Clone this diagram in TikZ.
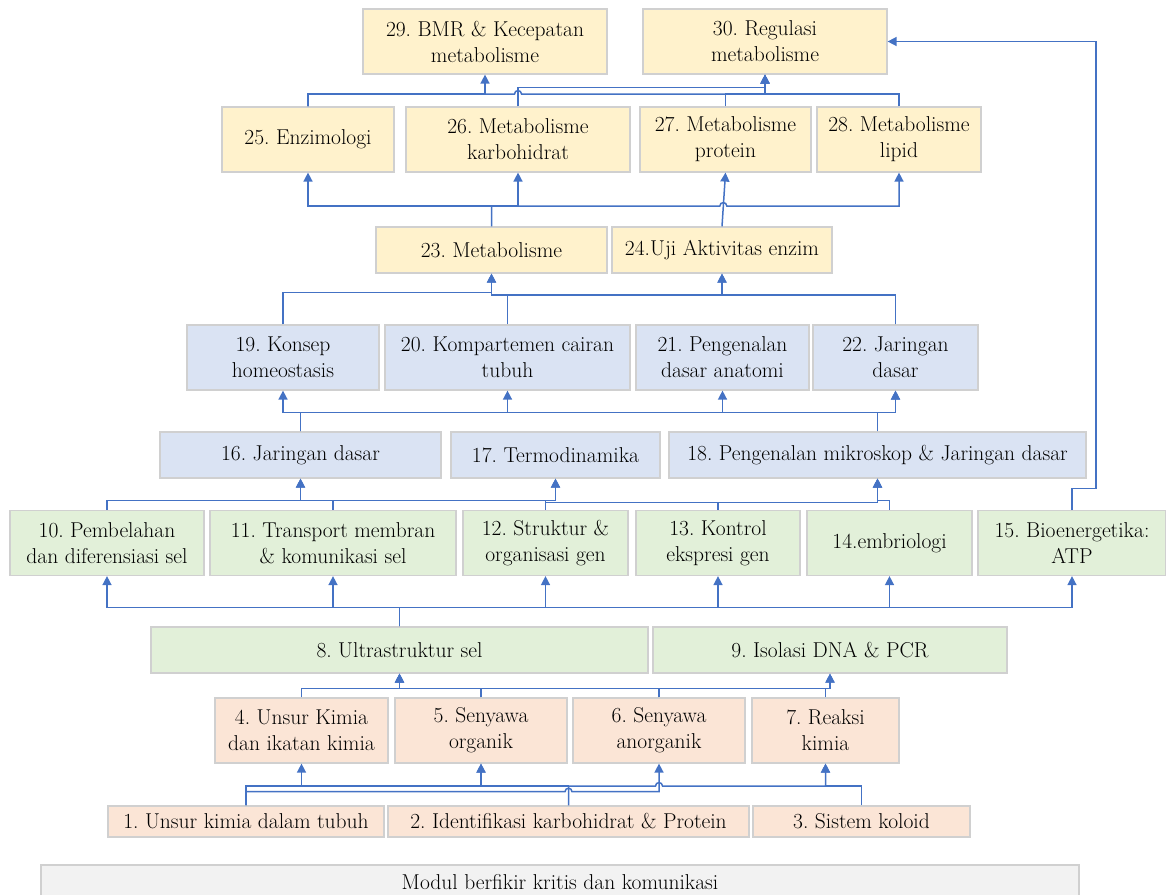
\documentclass[tikz,border=0pt]{standalone}
\usepackage{fontspec}
\usepackage{tikz}
\usetikzlibrary{arrows.meta}
\frenchspacing
\definecolor{metayellow}{HTML}{FFF2CC}
\definecolor{jarblue}{HTML}{DAE3F3}
\definecolor{selgreen}{HTML}{E2F0D9}
\definecolor{kimiaorange}{HTML}{FBE5D6}
\definecolor{modulgray}{HTML}{F2F2F2}
\definecolor{boxline}{HTML}{D0D0D0}
\definecolor{connblue}{HTML}{4472C4}
\tikzset{
every picture/.style={line width=1.5pt, >={Triangle[length=9pt,width=9pt]}},
%%%%%%%%%%  Node styles
topic/.style={draw=boxline, line width=1.2pt, align=center, inner sep=2pt,
              minimum height=65pt, font=\fontsize{21.5}{26}\selectfont},
single/.style={minimum height=46pt},
kimiabox/.style={topic, fill=kimiaorange},
selbox/.style={topic, fill=selgreen},
jaringanbox/.style={topic, fill=jarblue},
metabox/.style={topic, fill=metayellow},
modulbox/.style={topic, fill=modulgray, minimum height=34pt},
%%%% connector
conn/.style={->, draw=connblue, line width=1.5pt}
}

\begin{document}
\begin{tikzpicture}[x=1pt, y=-1pt]
\useasboundingbox (0,0) rectangle (1166,894);
%%%%%%% Kimia
\node[kimiabox, minimum height=31pt, minimum width=276pt] (unsur) at (246,821.5) {1. Unsur kimia dalam tubuh};
\node[kimiabox, minimum height=31pt, minimum width=361pt] (ident) at (568.5,821.5) {2. Identifikasi karbohidrat \& Protein};
\node[kimiabox, minimum height=31pt, minimum width=217pt] (koloid) at (861.5,821.5) {3. Sistem koloid};
\node[kimiabox, minimum width=173pt] (ikatan) at (301.5,730.5) {4. Unsur Kimia\\dan ikatan kimia};
\node[kimiabox, minimum width=172pt] (organik) at (481,730.5) {5. Senyawa\\organik};
\node[kimiabox, minimum width=172pt] (anorg) at (659,730.5) {6. Senyawa\\anorganik};
\node[kimiabox, minimum width=147pt] (reaksi) at (825.5,730.5) {7. Reaksi\\kimia};
%%%%%%% Sel
\node[selbox, single, minimum width=497pt] (ultra) at (399.5,650) {8. Ultrastruktur sel};
\node[selbox, single, minimum width=354pt] (dna) at (830,650) {9. Isolasi DNA \& PCR};
\node[selbox, minimum width=194pt] (belah) at (107,543) {10. Pembelahan\\dan diferensiasi sel};
\node[selbox, minimum width=246pt] (transp) at (333,543) {11. Transport membran\\\& komunikasi sel};
\node[selbox, minimum width=165pt] (gen) at (545.5,543) {12. Struktur \&\\organisasi gen};
\node[selbox, minimum width=164pt] (ekspr) at (718,543) {13. Kontrol\\ekspresi gen};
\node[selbox, minimum width=165pt] (embrio) at (889.5,543) {14.embriologi};
\node[selbox, minimum width=188pt] (atp) at (1072,543) {15. Bioenergetika:\\ATP};
%%%%%%% Jaringan
\node[jaringanbox, single, minimum width=281pt] (jar) at (300.5,455) {16. Jaringan dasar};
\node[jaringanbox, single, minimum width=209pt] (termo) at (555.5,455) {17. Termodinamika};
\node[jaringanbox, single, minimum width=417pt] (mikro) at (877.5,455) {18. Pengenalan mikroskop \& Jaringan dasar};
\node[jaringanbox, minimum width=192pt] (homeo) at (283,357.5) {19. Konsep\\homeostasis};
\node[jaringanbox, minimum width=245pt] (cairan) at (507.5,357.5) {20. Kompartemen cairan\\tubuh};
\node[jaringanbox, minimum width=173pt] (anatomi) at (722.5,357.5) {21. Pengenalan\\dasar anatomi};
\node[jaringanbox, minimum width=165pt] (jardas) at (895.5,357.5) {22. Jaringan\\dasar};
%%%%%%% Metabolisme
\node[metabox, single, minimum width=231pt] (meta) at (491.5,250) {23. Metabolisme};
\node[metabox, single, minimum width=220pt] (uji) at (722,250) {24.Uji Aktivitas enzim};
\node[metabox, minimum width=172pt] (enzim) at (308,139.5) {25. Enzimologi};
\node[metabox, minimum width=224pt] (karbo) at (518,139.5) {26. Metabolisme\\karbohidrat};
\node[metabox, minimum width=171pt] (prot) at (725.5,139.5) {27. Metabolisme\\protein};
\node[metabox, minimum width=164pt] (lipid) at (899,139.5) {28. Metabolisme\\lipid};
\node[metabox, minimum width=244pt] (bmr) at (485,41.5) {29. BMR \& Kecepatan\\metabolisme};
\node[metabox, minimum width=244pt] (reg) at (765,41.5) {30. Regulasi\\metabolisme};
\node[modulbox, minimum width=1038pt] (modul) at (560,882) {Modul berfikir kritis dan komunikasi};
%%%%%%% bus heights
\coordinate (busTop) at (0,94);
\coordinate (busTopHi) at (0,87.7);
\coordinate (busMeta) at (0,206);
\coordinate (busHomeo) at (0,292.7);
\coordinate (busJar) at (0,295);
\coordinate (busJaringan) at (0,412.7);
\coordinate (busSel) at (0,500.3);
\coordinate (busGen) at (0,502.3);
\coordinate (busAtp) at (1096,488.3);
\coordinate (busUltra) at (0,607.3);
\coordinate (busKimia) at (0,688.3);
\coordinate (busUnsur) at (0,786);
\coordinate (busUnsurLo) at (0,791.7);
%%%%%%% 1-3 to 4-7
\draw[conn] (unsur.north) -- (unsur.north |- busUnsur) -| (ikatan.south);
\draw[conn] (unsur.north) -- (unsur.north |- busUnsur) -| (organik.south);
\draw[conn] (unsur.north) -- (unsur.north |- busUnsurLo) -- (565,791.7)
   .. controls (565,787.2) and (572,787.2) .. (572,791.7) -| (anorg.south);
\draw[conn] (ident.north) -- (ident.north |- busUnsur) -| (organik.south);
\draw[conn] (ident.north) -- (ident.north |- busUnsur) -- (655.5,786)
   .. controls (655.5,781.5) and (662.5,781.5) .. (662.5,786) -| (reaksi.south);
\draw[conn] (koloid.north) -- (koloid.north |- busUnsur) -| (reaksi.south);
%%%%%%% 4-7 to 8-9
\draw[conn] (ikatan.north) -- (ikatan.north |- busKimia) -| (ultra.south);
\draw[conn] (organik.north) -- (organik.north |- busKimia) -| (ultra.south);
\draw[conn] (anorg.north) -- (anorg.north |- busKimia) -| (ultra.south);
\draw[conn] (anorg.north) -- (anorg.north |- busKimia) -| (dna.south);
\draw[conn] (reaksi.north) -- (reaksi.north |- busKimia) -| (dna.south);
%%%%%%% 8 to 10-15
\draw[conn] (ultra.north) -- (ultra.north |- busUltra) -| (belah.south);
\draw[conn] (ultra.north) -- (ultra.north |- busUltra) -| (transp.south);
\draw[conn] (ultra.north) -- (ultra.north |- busUltra) -| (gen.south);
\draw[conn] (ultra.north) -- (ultra.north |- busUltra) -| (ekspr.south);
\draw[conn] (ultra.north) -- (ultra.north |- busUltra) -| (embrio.south);
\draw[conn] (ultra.north) -- (ultra.north |- busUltra) -| (atp.south);
%%%%%%% 10-15 to 16-18, 30
\draw[conn] (belah.north) -- (belah.north |- busSel) -| (jar.south);
\draw[conn] (transp.north) -- (transp.north |- busSel) -| (jar.south);
\draw[conn] (transp.north) -- (transp.north |- busSel) -| (termo.south);
\draw[conn] (gen.north) -- (gen.north |- busSel) -| (termo.south);
\draw[conn] (gen.north) -- (gen.north |- busGen) -| (mikro.south);
\draw[conn] (ekspr.north) -- (ekspr.north |- busGen) -| (mikro.south);
\draw[conn] (embrio.north) -- (embrio.north |- busSel) -| (mikro.south);
\draw[conn] (atp.north) |- (busAtp) |- (reg.east);
%%%%%%% 16-18 to 19-22
\draw[conn] (jar.north) -- (jar.north |- busJaringan) -| (homeo.south);
\draw[conn] (jar.north) -- (jar.north |- busJaringan) -| (cairan.south);
\draw[conn] (jar.north) -- (jar.north |- busJaringan) -| (anatomi.south);
\draw[conn] (jar.north) -- (jar.north |- busJaringan) -| (jardas.south);
\draw[conn] (mikro.north) -- (mikro.north |- busJaringan) -| (jardas.south);
%%%%%%% 19-22 to 23-24
\draw[conn] (homeo.north) -- (homeo.north |- busHomeo) -| (meta.south);
\draw[conn] (cairan.north) -- (cairan.north |- busJar) -| (uji.south);
\draw[conn] (jardas.north) -- (jardas.north |- busJar) -| (meta.south);
\draw[conn] (jardas.north) -- (jardas.north |- busJar) -| (uji.south);
%%%%%%% 23-24 to 25-28
\draw[conn] (meta.north) -- (meta.north |- busMeta) -| (enzim.south);
\draw[conn] (meta.north) -- (meta.north |- busMeta) -| (karbo.south);
\draw[conn] (meta.north) -- (meta.north |- busMeta) -- (719.8,206)
   .. controls (719.8,201.5) and (726.8,201.5) .. (726.8,206) -| (lipid.south);
\draw[conn] (uji.north) -- (prot.south);
%%%%%%% 25-28 to 29-30
\draw[conn] (enzim.north) -- (enzim.north |- busTop) -| (bmr.south);
\draw[conn] (enzim.north) -- (enzim.north |- busTop) -- (514.5,94)
   .. controls (514.5,89.5) and (521.5,89.5) .. (521.5,94) -| (reg.south);
\draw[conn] (karbo.north) -- (karbo.north |- busTopHi) -| (reg.south);
\draw[conn] (prot.north) -- (prot.north |- busTop) -| (reg.south);
\draw[conn] (lipid.north) -- (lipid.north |- busTop) -| (reg.south);
\end{tikzpicture}
\end{document}
